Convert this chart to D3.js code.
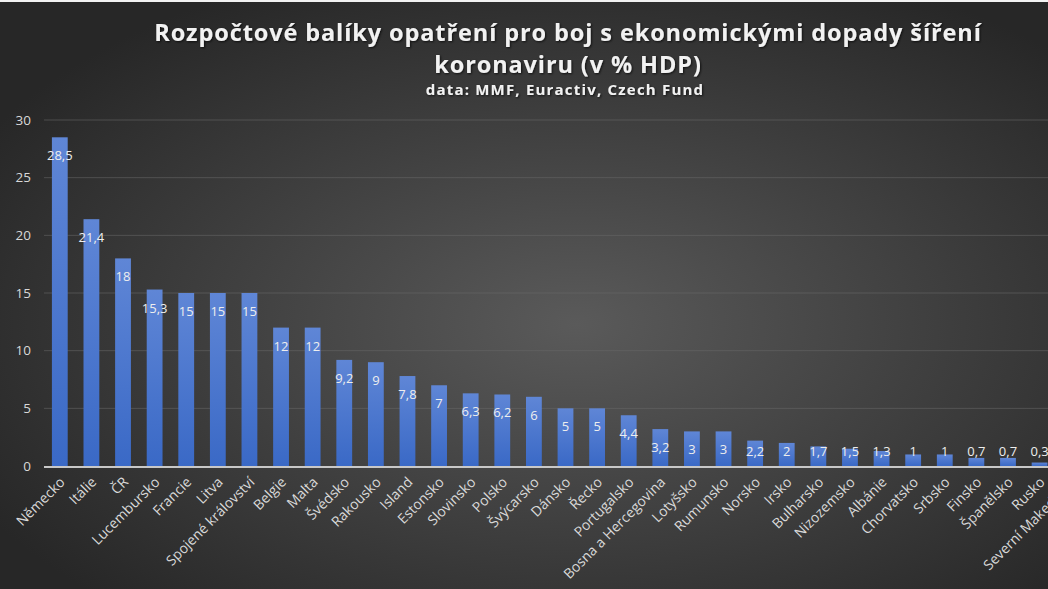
<!DOCTYPE html>
<html>
<head>
<meta charset="utf-8">
<script src="https://cdn.jsdelivr.net/npm/d3@7"></script>
<style>
  html, body { margin: 0; padding: 0; background: #2b2b2b; overflow: hidden; }
  svg { display: block; font-family: "Open Sans", "DejaVu Sans", sans-serif; }
</style>
</head>
<body>
<script>
// countries and their budget packages (% of GDP)
var countries = ["Německo", "Itálie", "ČR", "Lucembursko", "Francie", "Litva",
  "Spojené království", "Belgie", "Malta", "Švédsko", "Rakousko", "Island",
  "Estonsko", "Slovinsko", "Polsko", "Švýcarsko", "Dánsko", "Řecko",
  "Portugalsko", "Bosna a Hercegovina", "Lotyšsko", "Rumunsko", "Norsko",
  "Irsko", "Bulharsko", "Nizozemsko", "Albánie", "Chorvatsko", "Srbsko",
  "Finsko", "Španělsko", "Rusko", "Severní Makedonie"];
var values = [28.5, 21.4, 18, 15.3, 15, 15, 15, 12, 12, 9.2, 9, 7.8, 7, 6.3,
  6.2, 6, 5, 5, 4.4, 3.2, 3, 3, 2.2, 2, 1.7, 1.5, 1.3, 1, 1, 0.7, 0.7, 0.3, 0.2];
var yTicks = [0, 5, 10, 15, 20, 25, 30];

var titleLines = ["Rozpočtové balíky opatření pro boj s ekonomickými dopady šíření",
  "koronaviru (v % HDP)"];
var subtitle = "data: MMF, Euractiv, Czech Fund";

function show_chart() {
    var width = 1048;
    var height = 589;

    var svg = d3.select("body").append("svg")
                .attr("width", width)
                .attr("height", height);

    var defs = svg.append("defs");

    // dark background, lighter towards the middle
    var bg = defs.append("radialGradient")
                .attr("id", "bg")
                .attr("cx", "55%").attr("cy", "55%").attr("r", "65%");
    bg.append("stop").attr("offset", "0%").attr("stop-color", "#5a5a5a");
    bg.append("stop").attr("offset", "100%").attr("stop-color", "#272727");

    var barGrad = defs.append("linearGradient")
                .attr("id", "bar")
                .attr("x1", 0).attr("y1", 0).attr("x2", 0).attr("y2", 1);
    barGrad.append("stop").attr("offset", "0%").attr("stop-color", "#5f86d6");
    barGrad.append("stop").attr("offset", "100%").attr("stop-color", "#3a69c6");

    var shadow = defs.append("filter").attr("id", "shadow");
    shadow.append("feDropShadow")
        .attr("dx", 1).attr("dy", 1).attr("stdDeviation", 1.2)
        .attr("flood-color", "#000").attr("flood-opacity", 0.7);

    svg.append("rect")
        .attr("width", width).attr("height", height)
        .attr("fill", "url(#bg)");

    // thin white strip along the top edge
    svg.append("rect")
        .attr("width", width).attr("height", 2)
        .attr("fill", "#f2f2f2");

    // scales
    var x = d3.scaleBand()
            .domain(countries)
            .range([44, 1087])
            .paddingInner(0.5)
            .paddingOuter(0.25);

    var y = d3.scaleLinear()
            .domain([0, 30])
            .range([466, 120]);

    // gridlines
    svg.append("g")
        .selectAll("line")
        .data(yTicks.filter(function(d) { return d > 0; }))
        .enter()
        .append("line")
        .attr("x1", 44).attr("x2", width)
        .attr("y1", function(d) { return y(d); })
        .attr("y2", function(d) { return y(d); })
        .attr("stroke", "#6a6a6a")
        .attr("stroke-opacity", 0.55)
        .attr("stroke-width", 1);

    // y axis labels
    var yAxis = svg.append("g")
        .attr("transform", "translate(31,0)")
        .call(d3.axisLeft(y).tickValues(yTicks).tickSize(0).tickPadding(0));
    yAxis.select(".domain").remove();
    yAxis.selectAll("text")
        .attr("fill", "#d9d9d9")
        .style("font-size", "13.5px")
        .style("font-family", "'Open Sans', sans-serif");

    // bars
    svg.append("g")
        .selectAll("rect")
        .data(values)
        .enter()
        .append("rect")
        .attr("x", function(d, i) { return x(countries[i]); })
        .attr("y", function(d) { return y(d); })
        .attr("width", x.bandwidth())
        .attr("height", function(d) { return y(0) - y(d); })
        .attr("fill", "url(#bar)");

    // baseline
    svg.append("line")
        .attr("x1", 44).attr("x2", width)
        .attr("y1", y(0) + 1).attr("y2", y(0) + 1)
        .attr("stroke", "#c8c8c8")
        .attr("stroke-width", 2);

    // value labels inside the top of the bars (kept above the axis for short bars)
    svg.append("g")
        .selectAll("text")
        .data(values)
        .enter()
        .append("text")
        .attr("x", function(d, i) { return x(countries[i]) + x.bandwidth() / 2; })
        .attr("y", function(d) { return Math.min(y(d) + 23, y(0) - 10); })
        .attr("text-anchor", "middle")
        .attr("fill", "#eeeeee")
        .style("font-size", "13px")
        .text(function(d) { return String(d).replace(".", ","); });

    // category labels, rotated
    var xAxis = svg.append("g")
        .attr("transform", "translate(0," + (y(0) + 2) + ")")
        .call(d3.axisBottom(x).tickSize(0).tickPadding(0));
    xAxis.select(".domain").remove();
    xAxis.selectAll("text")
        .attr("fill", "#d9d9d9")
        .style("font-size", "14px")
        .style("font-family", "'Open Sans', sans-serif")
        .attr("text-anchor", "end")
        .attr("dy", 0)
        .attr("transform", "translate(6,15) rotate(-45)");

    // title
    var title = svg.append("g").attr("filter", "url(#shadow)");
    title.selectAll("text.t")
        .data(titleLines)
        .enter()
        .append("text")
        .attr("class", "t")
        .attr("x", 568)
        .attr("y", function(d, i) { return 41 + i * 32; })
        .attr("text-anchor", "middle")
        .attr("fill", "#f2f2f2")
        .style("font-size", "23.5px")
        .style("font-weight", "bold")
        .style("letter-spacing", "0.9px")
        .text(function(d) { return d; });

    title.append("text")
        .attr("x", 565)
        .attr("y", 95)
        .attr("text-anchor", "middle")
        .attr("fill", "#f2f2f2")
        .style("font-size", "15px")
        .style("font-weight", "bold")
        .style("letter-spacing", "1.2px")
        .text(subtitle);
}

document.addEventListener("DOMContentLoaded", show_chart());
</script>
</body>
</html>
